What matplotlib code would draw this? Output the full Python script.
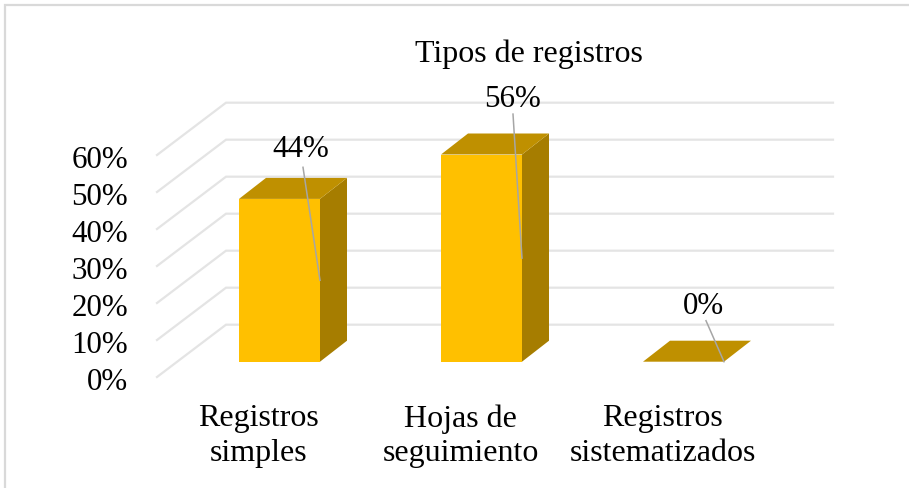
import matplotlib
matplotlib.use('agg')
from matplotlib import pyplot as plt
from matplotlib.patches import Polygon

categories = ["Registros\nsimples", "Hojas de\nseguimiento", "Registros\nsistematizados"]
values = [44, 56, 0]
value_labels = ["44%", "56%", "0%"]
grid_values = [0, 10, 20, 30, 40, 50, 60]
grid_labels = ["0%", "10%", "20%", "30%", "40%", "50%", "60%"]

W, H = 909, 489
PX_X = 202.0    # pixels per category
PX_Y = 3.7      # pixels per percent
X0, Y0 = 279.5, 362.7   # pixel of the first bar's base centre

BAR_W = 81 / PX_X
DX = 27 / PX_X
DY = 21 / PX_Y
FONT = 'Liberation Serif'
SIZE = 22.3
CAT_SIZE = 23

fig = plt.figure(figsize=(W / 100, H / 100), dpi=100)
ax = fig.add_axes([0, 0, 1, 1])
ax.set_xlim(-X0 / PX_X, (W - X0) / PX_X)
ax.set_ylim(-(H - Y0) / PX_Y, Y0 / PX_Y)
ax.axis('off')

def px(dx):
    return dx / PX_X

def py(dy):
    return dy / PX_Y

# walls
wall_front = px(157 - X0)
wall_back = px(226 - X0)
wall_right = px(833 - X0)
floor_front = py(Y0 - 378)
floor_back = py(Y0 - 325.7)
for v, lab in zip(grid_values, grid_labels):
    ax.plot([wall_front, wall_back, wall_right],
            [floor_front + v, floor_back + v, floor_back + v],
            color='#e4e4e4', lw=1.6, solid_joinstyle='miter', zorder=1)
    ax.text(px(128 - X0), floor_front + v + py(-1), lab, ha='right', va='center_baseline',
            family=FONT, fontsize=SIZE, color='black')

# bars
for i, v in enumerate(values):
    l, r = i - BAR_W / 2, i + BAR_W / 2
    if v > 0:
        ax.add_patch(Polygon([(l, 0), (r, 0), (r, v), (l, v)], fc='#FFC000', ec='none', zorder=3))
        ax.add_patch(Polygon([(r, 0), (r + DX, DY), (r + DX, v + DY), (r, v)],
                             fc='#A67D00', ec='none', zorder=3))
    ax.add_patch(Polygon([(l, v), (r, v), (r + DX, v + DY), (l + DX, v + DY)],
                         fc='#BF9000', ec='none', zorder=3))

# data labels and leader lines
label_off = [(-19, 135), (-10, 163), (-21, 60)]
leader_off = [(-17, 113), (-9, 144), (-18, 41)]
for i, v in enumerate(values):
    xe = i + BAR_W / 2
    ye = v / 2
    ax.plot([xe, xe + px(leader_off[i][0])], [ye, ye + py(leader_off[i][1])],
            color='#a6a6a6', lw=1.1, zorder=4)
    ax.text(xe + px(label_off[i][0]), ye + py(label_off[i][1]), value_labels[i],
            ha='center', va='center_baseline', family=FONT, fontsize=SIZE, color='black', zorder=5)

# category labels
for i, c in enumerate(categories):
    ax.text(i + px(-21), py(Y0 - 436), c, ha='center', va='center', family=FONT,
            fontsize=CAT_SIZE, linespacing=1.24, color='black')

ax.text(px(528.5 - X0), py(Y0 - 62), "Tipos de registros", ha='center', va='baseline',
        family=FONT, fontsize=CAT_SIZE, color='black')

# chart border
ax.plot([px(4.5 - X0), px(4.5 - X0), px(909 - X0)],
        [py(Y0 - 489), py(Y0 - 6), py(Y0 - 6)], color='#d9d9d9', lw=1.6,
        solid_joinstyle='miter', zorder=6)

fig.savefig('out.png', dpi=100)
